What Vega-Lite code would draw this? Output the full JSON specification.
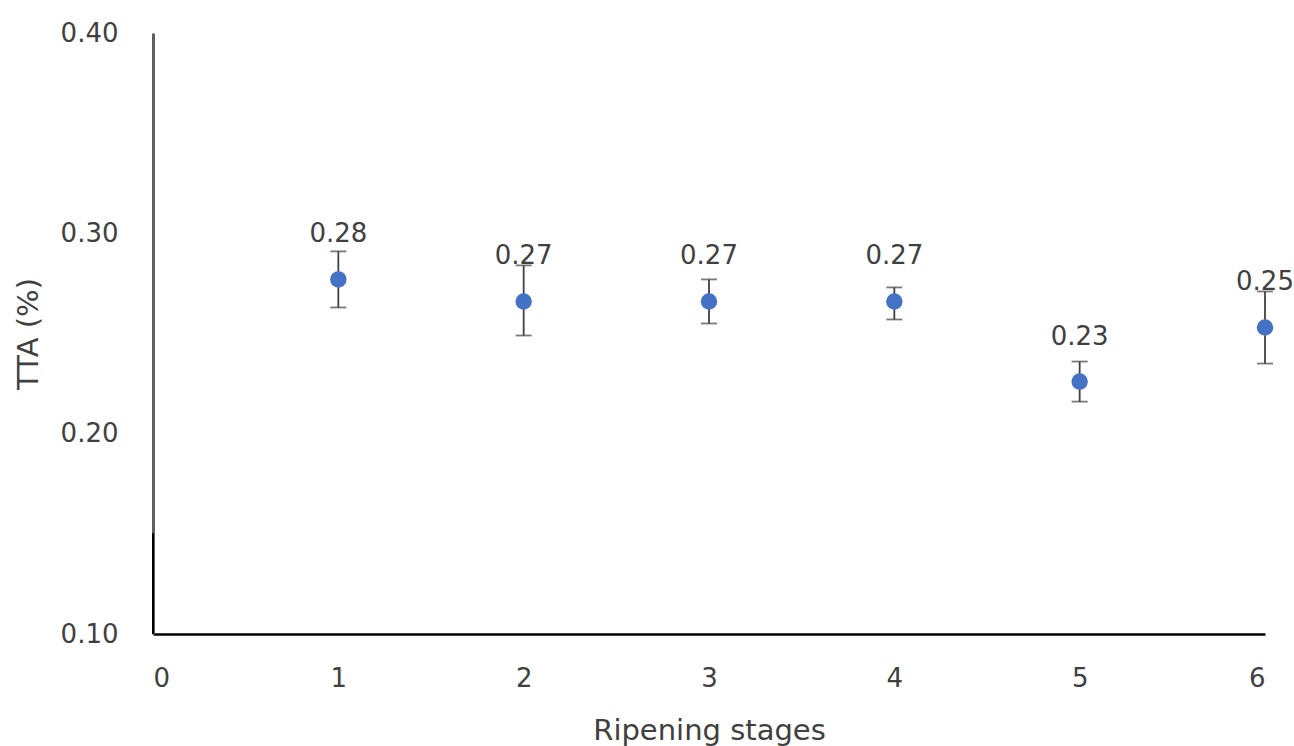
{
  "$schema": "https://vega.github.io/schema/vega-lite/v6.json",
  "autosize": {"type": "none"},
  "width": 1112,
  "height": 601,
  "padding": {"left": 153, "top": 33, "right": 29, "bottom": 112},
  "background": "white",
  "config": {
    "view": {"stroke": null},
    "font": "DejaVu Sans",
    "axis": {"grid": false, "ticks": false, "labelFont": "DejaVu Sans", "titleFont": "DejaVu Sans", "labelFontSize": 26, "titleFontSize": 29, "labelColor": "#404040", "titleColor": "#404040", "titleFontWeight": "normal"}
  },
  "data": {
    "values": [
      {"stage": 1, "tta": 0.277, "lower": 0.263, "upper": 0.291, "label": "0.28"},
      {"stage": 2, "tta": 0.266, "lower": 0.249, "upper": 0.284, "label": "0.27"},
      {"stage": 3, "tta": 0.266, "lower": 0.255, "upper": 0.277, "label": "0.27"},
      {"stage": 4, "tta": 0.266, "lower": 0.257, "upper": 0.273, "label": "0.27"},
      {"stage": 5, "tta": 0.226, "lower": 0.216, "upper": 0.236, "label": "0.23"},
      {"stage": 6, "tta": 0.253, "lower": 0.235, "upper": 0.271, "label": "0.25"}
    ]
  },
  "encoding": {
    "x": {
      "field": "stage", "type": "quantitative",
      "scale": {"domain": [0, 6], "nice": false},
      "axis": {"title": "Ripening stages", "values": [0, 1, 2, 3, 4, 5, 6], "format": "d", "labelPadding": 31, "titlePadding": 25, "domainColor": "#000000", "domainWidth": 2.5}
    }
  },
  "layer": [
    {
      "mark": {"type": "rule", "color": "#404040", "strokeWidth": 1.8},
      "encoding": {
        "y": {
          "field": "lower", "type": "quantitative",
          "scale": {"domain": [0.1, 0.4], "nice": false, "zero": false},
          "axis": {"title": "TTA (%)", "values": [0.1, 0.2, 0.3, 0.4], "format": ".2f", "labelPadding": 35, "titlePadding": 17, "domainColor": "#606060", "domainWidth": 3}
        },
        "y2": {"field": "upper"}
      }
    },
    {
      "mark": {"type": "rule", "color": "#000000", "strokeWidth": 2},
      "encoding": {"x": {"datum": 0}, "y": {"datum": 0.1}, "y2": {"datum": 0.15}}
    },
    {
      "mark": {"type": "tick", "color": "#404040", "thickness": 1.8, "size": 16, "orient": "horizontal"},
      "encoding": {"y": {"field": "lower", "type": "quantitative"}}
    },
    {
      "mark": {"type": "tick", "color": "#404040", "thickness": 1.8, "size": 16, "orient": "horizontal"},
      "encoding": {"y": {"field": "upper", "type": "quantitative"}}
    },
    {
      "mark": {"type": "point", "filled": true, "opacity": 1, "size": 270, "color": "#4472C4"},
      "encoding": {"y": {"field": "tta", "type": "quantitative"}}
    },
    {
      "mark": {"type": "text", "dy": -45, "fontSize": 26, "color": "#404040", "font": "DejaVu Sans"},
      "encoding": {"y": {"field": "tta", "type": "quantitative"}, "text": {"field": "label"}}
    }
  ]
}
